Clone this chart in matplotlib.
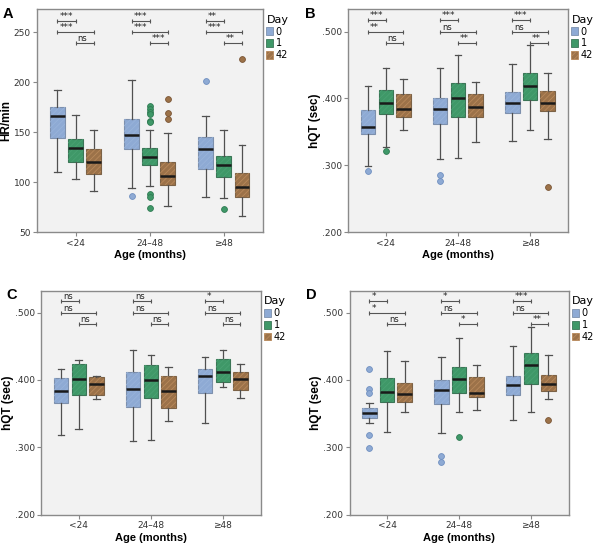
import numpy as np
import matplotlib.pyplot as plt
from matplotlib.patches import Patch, PathPatch
from matplotlib.ticker import FuncFormatter

# categories
ages = ['<24', '24\u201348', '\u226548']
days = ['0', '1', '42']

# panel A: HR/min  (rows = age group, cols = day)
A_hi = [[192, 167, 152], [202, 152, 149], [166, 152, 137]]
A_q3 = [[175, 143, 133], [163, 134, 120], [145, 126, 109]]
A_med = [[166, 134, 120], [147, 125, 106], [133, 117, 95]]
A_q1 = [[144, 120, 108], [133, 117, 97], [113, 105, 85]]
A_lo = [[110, 103, 91], [94, 96, 76], [85, 84, 66]]
A_out = [[[], [], []],
         [[86], [176, 173, 170, 168, 161, 160, 88, 85, 74], [183, 169, 163]],
         [[201], [73], [223]]]
A_sig = [['***', '***', 'ns'], ['***', '***', '***'], ['**', '***', '**']]

# panel B: hQT
B_hi = [[.418, .445, .429], [.445, .465, .425], [.452, .480, .438]]
B_q3 = [[.383, .413, .406], [.400, .423, .407], [.409, .438, .411]]
B_med = [[.358, .394, .384], [.385, .401, .388], [.393, .419, .394]]
B_q1 = [[.347, .377, .373], [.362, .373, .373], [.379, .397, .382]]
B_lo = [[.299, .327, .353], [.309, .311, .335], [.336, .353, .340]]
B_out = [[[.291], [.322], []], [[.285, .277], [], []], [[], [], [.267]]]
B_sig = [['***', '**', 'ns'], ['***', 'ns', '**'], ['***', 'ns', '**']]

# panel C: hQT
C_hi = [[.417, .429, .406], [.444, .437, .419], [.434, .444, .424]]
C_q3 = [[.403, .424, .405], [.412, .422, .406], [.417, .431, .412]]
C_med = [[.383, .402, .394], [.387, .400, .383], [.406, .412, .401]]
C_q1 = [[.366, .378, .377], [.360, .373, .359], [.381, .397, .385]]
C_lo = [[.318, .327, .372], [.309, .311, .339], [.336, .390, .373]]
C_out = [[[], [], []], [[], [], []], [[], [], []]]
C_sig = [['ns', 'ns', 'ns'], ['ns', 'ns', 'ns'], ['*', 'ns', 'ns']]

# panel D: hQT
D_hi = [[.366, .443, .428], [.434, .462, .423], [.450, .478, .437]]
D_q3 = [[.358, .403, .395], [.400, .419, .404], [.406, .440, .408]]
D_med = [[.351, .382, .379], [.385, .401, .381], [.392, .422, .394]]
D_q1 = [[.344, .367, .368], [.364, .380, .374], [.377, .394, .384]]
D_lo = [[.336, .323, .353], [.321, .353, .356], [.340, .353, .372]]
D_out = [[[.417, .386, .380, .318, .299], [], []],
         [[.287, .278], [.316], []],
         [[], [], [.340]]]
D_sig = [['*', '*', 'ns'], ['*', 'ns', '*'], ['***', 'ns', '**']]

face = ['#8eaad4', '#3f9868', '#9c7249']
edge = ['#7d90ad', '#3b7556', '#7c6246']
hatchc = ['#98b3da', '#4aa173', '#b8895b']
flier_edge = ['#6f8fc0', '#2f7a52', '#7a5535']

plt.rcParams['hatch.linewidth'] = 0.6

fig = plt.figure(figsize=(6, 5.47), dpi=100)

panels = [
    ('A', [0.0617, 0.5753, 0.3767, 0.4082], (50, 273), [50, 100, 150, 200, 250],
     'HR/min', A_hi, A_q3, A_med, A_q1, A_lo, A_out, A_sig, [261.5, 250.3, 239.0]),
    ('B', [0.5805, 0.5753, 0.3665, 0.4082], (0.2, 0.5337), [.2, .3, .4, .5],
     'hQT (sec)', B_hi, B_q3, B_med, B_q1, B_lo, B_out, B_sig, [.517, .500, .483]),
    ('C', [0.0688, 0.0592, 0.3662, 0.4094], (0.2, 0.5327), [.2, .3, .4, .5],
     'hQT (sec)', C_hi, C_q3, C_med, C_q1, C_lo, C_out, C_sig, [.517, .500, .483]),
    ('D', [0.5828, 0.0592, 0.3655, 0.4094], (0.2, 0.5327), [.2, .3, .4, .5],
     'hQT (sec)', D_hi, D_q3, D_med, D_q1, D_lo, D_out, D_sig, [.517, .500, .483]),
]

off = 0.245
bw = 0.2

for (letter, pos, ylim, yticks, ylabel, hi, q3, med, q1, lo, out, sig, sig_y) in panels:
    ax = fig.add_axes(pos)
    ax.set_facecolor('#f2f2f2')
    for g in range(3):
        for d in range(3):
            x = g + (d - 1) * off
            st = [dict(med=med[g][d], q1=q1[g][d], q3=q3[g][d],
                       whislo=lo[g][d], whishi=hi[g][d], fliers=out[g][d])]
            r = ax.bxp(st, positions=[x], widths=bw, patch_artist=True,
                       capwidths=0.09, manage_ticks=False,
                       boxprops=dict(facecolor=face[d], edgecolor=edge[d], lw=0.8),
                       medianprops=dict(color='#1a1a1a', lw=1.8),
                       whiskerprops=dict(color='#505050', lw=0.9),
                       capprops=dict(color='#505050', lw=0.9),
                       flierprops=dict(marker='o', markersize=4.2,
                                       markerfacecolor=face[d],
                                       markeredgecolor=flier_edge[d],
                                       markeredgewidth=0.6))
            box = r['boxes'][0]
            # SPSS-style fine texture on the boxes
            ax.add_patch(PathPatch(box.get_path(), facecolor='none',
                                   edgecolor=hatchc[d], lw=0, hatch='//////',
                                   zorder=box.get_zorder() + 0.01))
        # significance brackets
        pairs = [(0, 1), (0, 2), (1, 2)]
        for k, (a, b) in enumerate(pairs):
            x1 = g + (a - 1) * off
            x2 = g + (b - 1) * off
            yy = sig_y[k]
            ax.plot([x1, x2], [yy, yy], color='#555555', lw=0.8)
            ax.plot([x1, x2], [yy, yy], ls='none', marker='|', ms=3.5,
                    mew=0.8, color='#555555')
            lab = sig[g][k]
            ax.text(x1 + 0.025, yy, lab, fontsize=6 if lab == 'ns' else 6.5,
                    ha='left', va='bottom', color='#222222')
    ax.set_xlim(-0.52, 2.53)
    ax.set_ylim(*ylim)
    ax.set_xticks(range(3))
    ax.set_xticklabels(ages)
    ax.set_yticks(yticks)
    if letter != 'A':
        ax.yaxis.set_major_formatter(FuncFormatter(lambda v, p: ('%.3f' % v).lstrip('0')))
    ax.tick_params(labelsize=6.5, colors='#888888', labelcolor='#333333',
                   length=3, width=0.8, pad=1.5)
    for s in ax.spines.values():
        s.set_color('#8a8a8a')
        s.set_linewidth(1.0)
    ax.set_xlabel('Age (months)', fontsize=8, fontweight='bold',
                  family='Liberation Sans', labelpad=2)
    ax.set_ylabel(ylabel, fontsize=8.5, fontweight='bold',
                  family='Liberation Sans', labelpad=1)
    handles = [Patch(facecolor=face[d], edgecolor=hatchc[d] if d == 2 else edge[d],
                     hatch='//////' if d == 2 else None, lw=0.6, label=days[d])
               for d in range(3)]
    ax.legend(handles=handles, title='Day', loc='upper left',
              bbox_to_anchor=(1.015, 0.975), frameon=False, fontsize=7,
              title_fontsize=8, handlelength=0.7, handleheight=0.8,
              handletextpad=0.25, labelspacing=0.2, borderpad=0,
              borderaxespad=0, alignment='left')
    fig.text(pos[0] - 0.058 if letter in 'AC' else pos[0] - 0.072,
             pos[1] + pos[3] + 0.004, letter, fontsize=10.5, fontweight='bold',
             family='Liberation Sans', va='top', ha='left')

fig.savefig('out.png', dpi=100)
